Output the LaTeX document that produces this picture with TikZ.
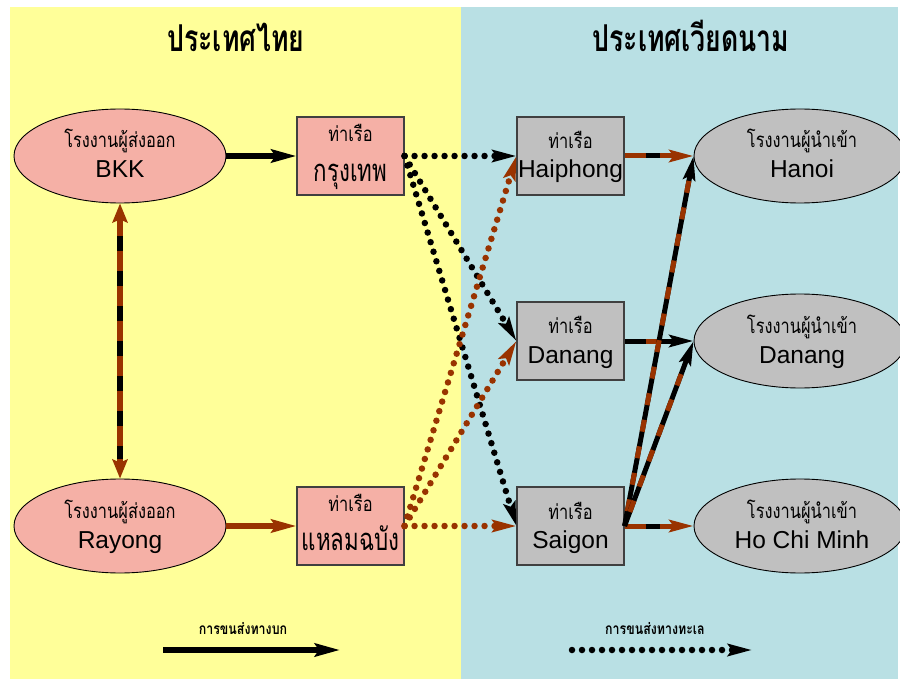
\documentclass[tikz,border=0pt]{standalone}
\usepackage{fontspec}
\setmainfont{Liberation Sans}
\newfontfamily\thaifont[Script=Thai,FakeStretch=0.8]{Loma}
\newfontfamily\thaibig[Script=Thai,FakeStretch=0.72]{Loma}
\usetikzlibrary{arrows.meta,shapes.geometric}
\definecolor{thaibg}{RGB}{255,255,153}
\definecolor{vietbg}{RGB}{185,224,228}
\definecolor{exportfill}{RGB}{245,176,166}
\definecolor{portgray}{RGB}{192,192,192}
\definecolor{rust}{RGB}{153,51,0}
\begin{document}
\begin{tikzpicture}[x=1pt,y=-1pt,
  factory/.style={ellipse, draw=black, line width=0.9pt, minimum width=212pt, minimum height=94pt, inner sep=0pt},
  portbox/.style={rectangle, draw=black!75, line width=1.1pt, minimum width=107pt, minimum height=78pt, inner sep=0pt},
  small/.style={anchor=base, inner sep=0pt, font=\thaifont\fontsize{20.5}{22}\selectfont},
  latin/.style={anchor=base, inner sep=0pt, font=\fontsize{24.5}{27}\selectfont},
  thaiport/.style={anchor=base, inner sep=0pt, font=\thaibig\fontsize{31}{34}\selectfont},
  heading/.style={anchor=base, inner sep=0pt, font=\thaibig\bfseries\fontsize{37}{40}\selectfont},
  legendtext/.style={anchor=base, inner sep=0pt, font=\thaifont\bfseries\fontsize{15.5}{17}\selectfont},
  tipA/.tip={Stealth[length=25pt,width=13pt,inset=4pt]},
  tipB/.tip={Stealth[length=24pt,width=12pt,inset=4pt]},
  tipC/.tip={Stealth[length=19pt,width=15pt,inset=3pt]},
  road/.style={line width=6pt, -tipA},
  sea/.style={line width=6.5pt, line cap=round, dash pattern=on 0pt off 10pt, -tipB},
  link/.style={line width=5pt},
]
\useasboundingbox (0,0) rectangle (900,679);

% the two country panels
\fill[thaibg] (10,7) rectangle (461,679);
\fill[vietbg] (461,7) rectangle (898,679);

% headings
\node[heading] (thTitle) at (236,52) {ประเทศไทย};
\node[heading] (vnTitle) at (691,52) {ประเทศเวียดนาม};

% exporting factories
\node[factory, fill=exportfill] (bkk) at (120,156) {};
\node[factory, fill=exportfill] (rayong) at (120,526) {};
% Thai ports
\node[portbox, fill=exportfill] (krungthep) at (350.5,156) {};
\node[portbox, fill=exportfill] (laemchabang) at (350.5,526) {};
% Vietnamese ports
\node[portbox, fill=portgray] (haiphong) at (570.5,156) {};
\node[portbox, fill=portgray] (danangport) at (570.5,341) {};
\node[portbox, fill=portgray] (saigon) at (570.5,526) {};
% importing factories
\node[factory, fill=portgray] (hanoi) at (800,156) {};
\node[factory, fill=portgray] (danang) at (800,341) {};
\node[factory, fill=portgray] (hcm) at (800,526) {};

% labels
\node[small] (bkkA) at (120,148) {โรงงานผู้ส่งออก};
\node[latin] (bkkB) at (120,178) {BKK};
\node[small] (rayA) at (120,518) {โรงงานผู้ส่งออก};
\node[latin] (rayB) at (120,548) {Rayong};
\node[small] (ktA) at (350.5,142) {ท่าเรือ};
\node[thaiport] (ktB) at (350.5,182) {กรุงเทพ};
\node[small] (lcA) at (350.5,511) {ท่าเรือ};
\node[thaiport] (lcB) at (350.5,550) {แหลมฉบัง};
\node[small] (hpA) at (570.5,149) {ท่าเรือ};
\node[latin] (hpB) at (570.5,178) {Haiphong};
\node[small] (dpA) at (570.5,334) {ท่าเรือ};
\node[latin] (dpB) at (570.5,363) {Danang};
\node[small] (sgA) at (570.5,519) {ท่าเรือ};
\node[latin] (sgB) at (570.5,548) {Saigon};
\node[small] (hnA) at (802,148) {โรงงานผู้นำเข้า};
\node[latin] (hnB) at (802,178) {Hanoi};
\node[small] (dnA) at (802,333) {โรงงานผู้นำเข้า};
\node[latin] (dnB) at (802,363) {Danang};
\node[small] (hcA) at (802,518) {โรงงานผู้นำเข้า};
\node[latin] (hcB) at (802,548) {Ho Chi Minh};

% land transport
\draw[road, black] (bkk.east) -- (krungthep.west);
\draw[road, rust] (rayong.east) -- (laemchabang.west);
\draw[rust, line width=6pt, tipC-tipC] (bkk.south) -- (rayong.north);
\draw[black, line width=6pt, dash pattern=on 15pt off 20pt, dash phase=22pt,
      shorten <=20pt, shorten >=20pt] (bkk.south) -- (rayong.north);

% sea transport
\draw[sea, black] (krungthep.east) -- (haiphong.west);
\draw[sea, black] (krungthep.east) -- (danangport.west);
\draw[sea, black] (krungthep.east) -- (saigon.west);
\draw[sea, rust] (laemchabang.east) -- (haiphong.west);
\draw[sea, rust] (laemchabang.east) -- (danangport.west);
\draw[sea, rust] (laemchabang.east) -- (saigon.west);

% inland delivery in Vietnam
\draw[link, rust, -tipB] (haiphong.east) -- (hanoi.west);
\draw[link, black, dash pattern=on 0pt off 21pt on 14pt off 200pt] (haiphong.east) -- (hanoi.west);
\draw[link, black, -tipB] (danangport.east) -- (danang.west);
\draw[link, rust, dash pattern=on 0pt off 21pt on 15pt off 200pt] (danangport.east) -- (danang.west);
\draw[link, rust, -tipB] (saigon.east) -- (hcm.west);
\draw[link, black, dash pattern=on 0pt off 21pt on 14pt off 200pt] (saigon.east) -- (hcm.west);
\draw[link, black, -tipB] (saigon.east) -- (hanoi.west);
\draw[link, rust, dash pattern=on 12pt off 15pt, dash phase=-15pt, shorten >=24pt] (saigon.east) -- (hanoi.west);
\draw[link, black, -tipB] (saigon.east) -- (danang.west);
\draw[link, rust, dash pattern=on 12pt off 15pt, dash phase=-15pt, shorten >=24pt] (saigon.east) -- (danang.west);

% legend
\node[legendtext] (roadLabel) at (243,634) {การขนส่งทางบก};
\node[legendtext] (seaLabel) at (655,634) {การขนส่งทางทะเล};
\coordinate (roadStart) at (163,650);
\coordinate (roadEnd) at (340,650);
\coordinate (seaStart) at (572,650);
\coordinate (seaEnd) at (752,650);
\draw[road, black] (roadStart) -- (roadEnd);
\draw[sea, black] (seaStart) -- (seaEnd);
\end{tikzpicture}
\end{document}
